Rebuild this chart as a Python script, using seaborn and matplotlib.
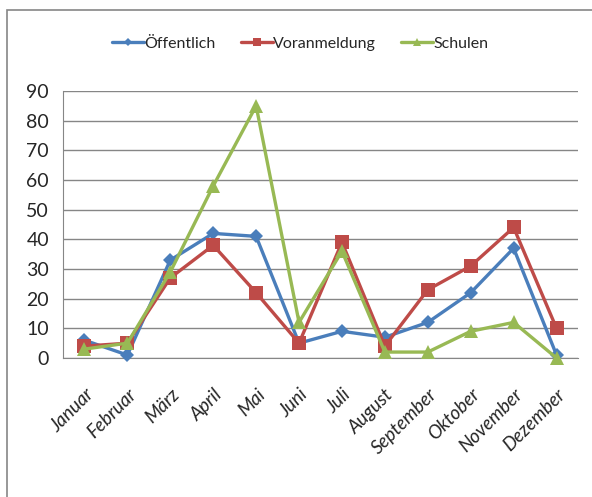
import pandas as pd
import matplotlib
matplotlib.use("Agg")
import matplotlib.pyplot as plt
import seaborn as sns
from matplotlib.patches import Rectangle

# Chart data
months = ["Januar", "Februar", "März", "April", "Mai", "Juni", "Juli",
          "August", "September", "Oktober", "November", "Dezember"]
oeffentlich = [6, 1, 33, 42, 41, 5, 9, 7, 12, 22, 37, 1]
voranmeldung = [4, 5, 27, 38, 22, 5, 39, 4, 23, 31, 44, 10]
schulen = [3, 5, 29, 58, 85, 12, 36, 2, 2, 9, 12, 0]

series_names = ["Öffentlich", "Voranmeldung", "Schulen"]
colors = ["#4A7EBB", "#BE4B48", "#98B954"]
markers = ["D", "s", "^"]
msizes = [7.5, 9.5, 10]

df = pd.DataFrame({"Monat": months, "Öffentlich": oeffentlich,
                   "Voranmeldung": voranmeldung, "Schulen": schulen})
df["x"] = range(len(months))
long_df = df.melt(id_vars=["Monat", "x"], value_vars=series_names,
                  var_name="Serie", value_name="Wert")

sns.set_style("white")
plt.rcParams["font.family"] = ["Lato", "DejaVu Sans"]

fig = plt.figure(figsize=(5.92, 4.97), dpi=100)
ax = fig.add_axes([63 / 592, 1 - 358 / 497, 515 / 592, 267 / 497])

for name, c, m, ms in zip(series_names, colors, markers, msizes):
    sub = long_df[long_df["Serie"] == name]
    sns.lineplot(data=sub, x="x", y="Wert", ax=ax, color=c, marker=m,
                 markersize=ms, markeredgewidth=0, linewidth=2.4, label=name,
                 clip_on=False, zorder=3)

ax.set_xlim(-0.5, len(months) - 0.5)
ax.set_ylim(0, 90)
ax.set_yticks(range(0, 91, 10))
ax.set_xticks([i - 0.5 for i in range(len(months) + 1)])
ax.set_xticklabels([])
ax.set_xticks(range(len(months)), minor=True)
ax.set_xticklabels(months, minor=True, rotation=45, ha="right",
                   rotation_mode="anchor", fontsize=13.5, style="italic")
ax.tick_params(axis="x", which="minor", length=0, pad=20)
ax.tick_params(axis="x", which="major", length=6, color="#868686", width=1)
ax.tick_params(axis="y", length=5, color="#868686", labelsize=14, pad=5)
ax.set_xlabel("")
ax.set_ylabel("")
ax.yaxis.grid(True, color="#868686", linewidth=1)
ax.set_axisbelow(True)
for s in ["top", "right"]:
    ax.spines[s].set_visible(False)
ax.spines["left"].set_color("#868686")
ax.spines["bottom"].set_color("#868686")

leg = ax.legend(loc="center", bbox_to_anchor=(300 / 592, 1 - 44 / 497),
                bbox_transform=fig.transFigure, ncol=3, frameon=False,
                fontsize=11.5, handlelength=2.0, columnspacing=1.6,
                handletextpad=0.0, markerscale=0.6)

fig.patches.append(Rectangle((7 / 592, -0.1), 1.0, 1 - 10 / 497 + 0.1,
                             transform=fig.transFigure, fill=False,
                             edgecolor="#868686", linewidth=1.2))

fig.savefig("out.png", dpi=100)
